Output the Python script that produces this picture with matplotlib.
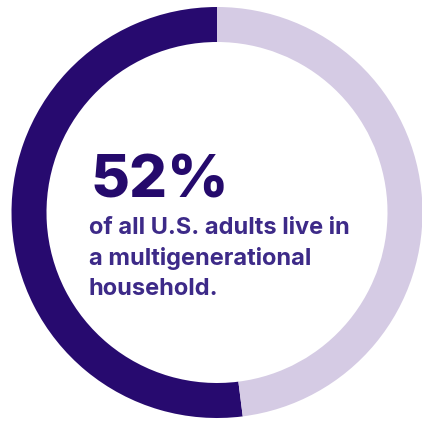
import matplotlib.pyplot as plt

# share of U.S. adults living in a multigenerational household
shares = [52, 48]
ring_colors = ['#270a6f', '#d5cbe4']
headline = '52%'
caption = ['of all U.S. adults live in', 'a multigenerational', 'household.']

W, H = 422, 423
fig = plt.figure(figsize=(W / 100, H / 100), dpi=100)
ax = fig.add_axes([0, 0, 1, 1])

ax.pie(shares, colors=ring_colors, startangle=90, counterclock=True,
       radius=205.5, center=(217, H - 212.5),
       wedgeprops=dict(width=35, linewidth=0))
ax.set_xlim(0, W)
ax.set_ylim(0, H)
ax.set_aspect('equal')
ax.axis('off')

ax.text(91, H - 197, headline, fontsize=43, fontweight='heavy',
        family='Inter', color='#250a6c', va='baseline', ha='left')
for i, line in enumerate(caption):
    ax.text(89, H - 234 - i * 30.5, line, fontsize=17, fontweight='bold',
            family='Inter', color='#3d2a88', va='baseline', ha='left')

fig.savefig('out.png', dpi=100)
